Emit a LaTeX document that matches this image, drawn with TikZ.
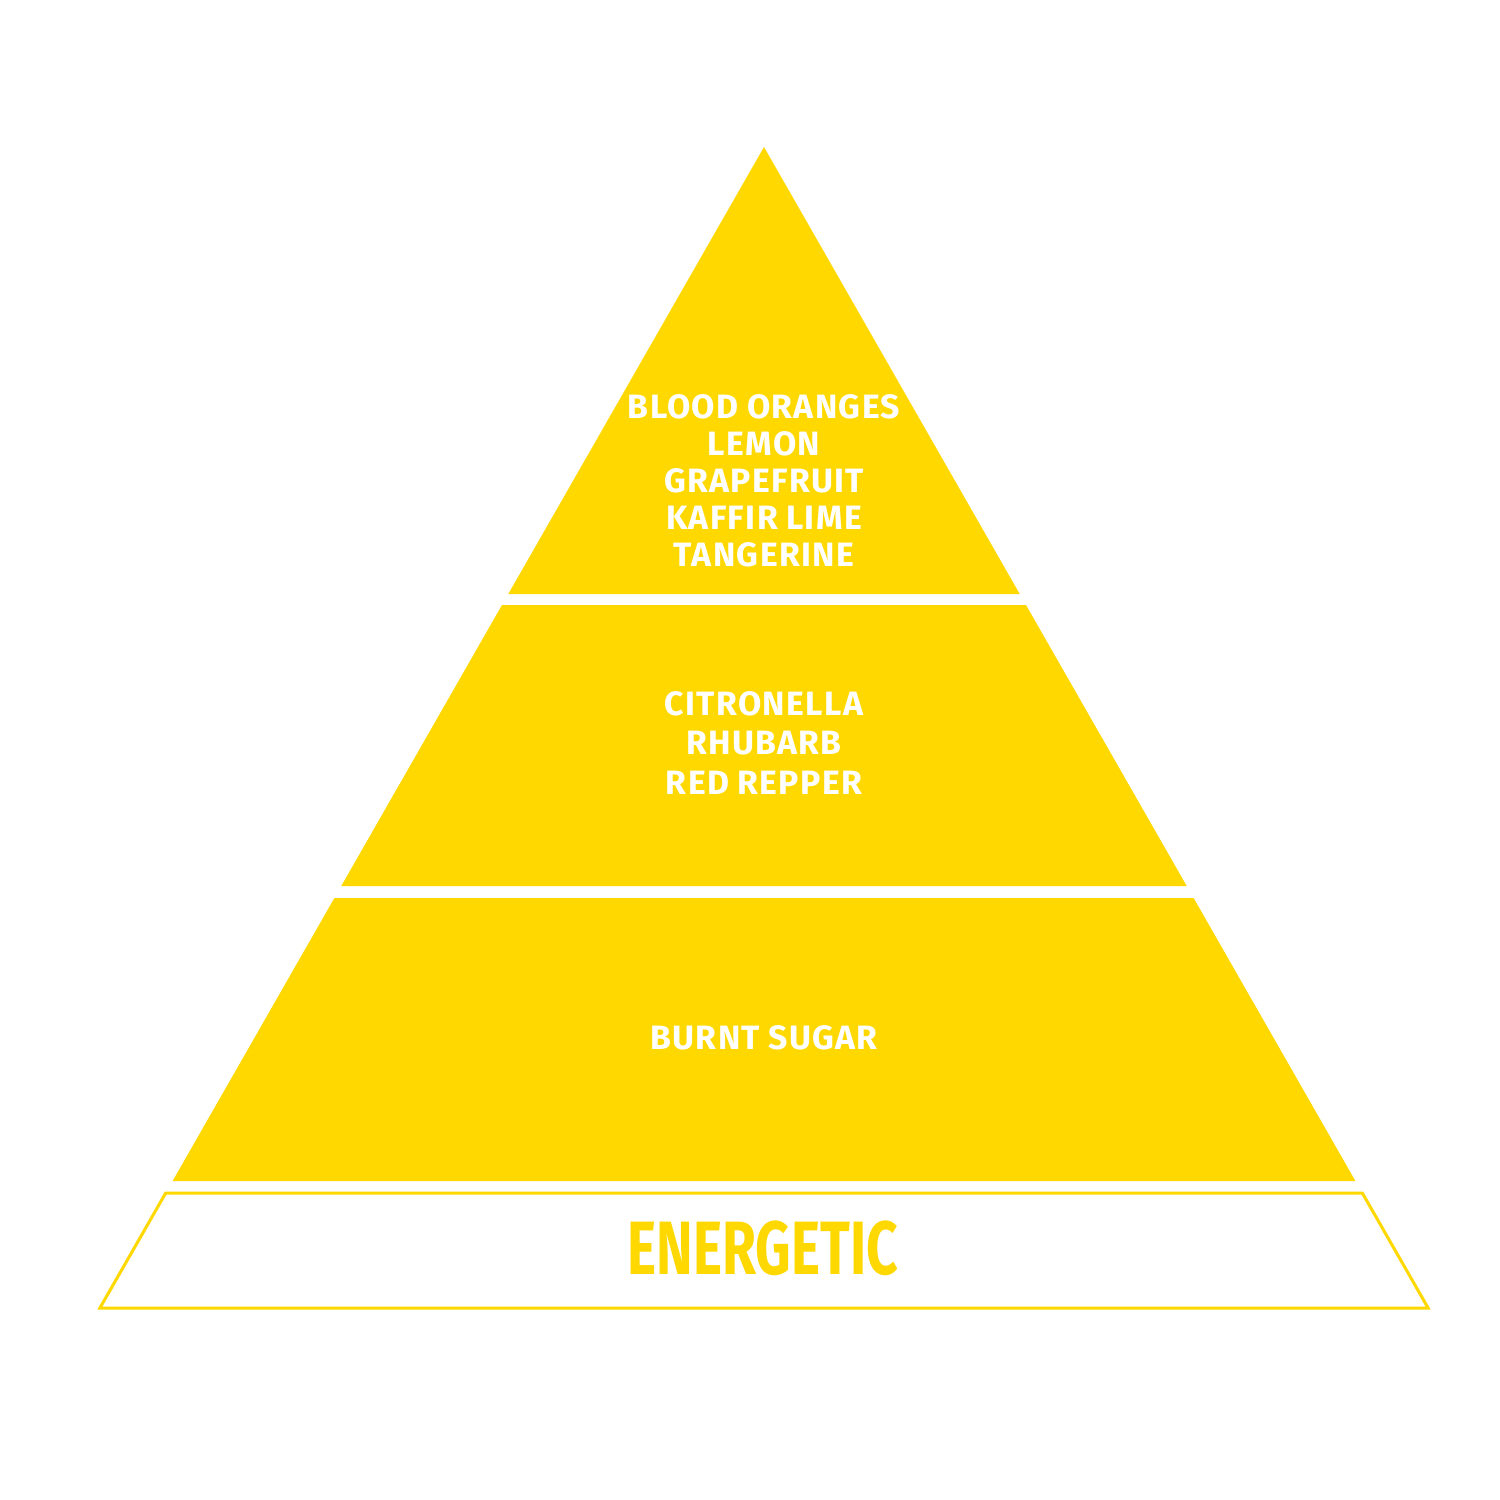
\documentclass[tikz,border=0pt]{standalone}
\usepackage{fontspec}
\setmainfont{Fira Sans}
\newfontfamily\notefont{Fira Sans}[LetterSpace=4, WordSpace=0.9]
\definecolor{pyellow}{RGB}{255,216,0}
\tikzset{
  tier/.style={fill=pyellow, draw=none},
  band/.style={draw=pyellow, line width=0.85pt, fill=white},
  notes/.style={text=white, align=center, inner sep=0pt, font=\notefont\fontsize{9.6}{10.5}\selectfont\bfseries},
  mood/.style={text=pyellow, inner sep=0pt}
}
\begin{document}
\begin{tikzpicture}[x=0.01cm, y=-0.01cm]
\useasboundingbox (0,0) rectangle (1500,1500);
% tiers
\fill[tier] (764,147) -- (1019.7,594) -- (508.3,594) -- cycle;
\fill[tier] (502,605) -- (1026,605) -- (1186.7,886) -- (341.3,886) -- cycle;
\fill[tier] (334.4,898) -- (1193.6,898) -- (1355.4,1181) -- (172.6,1181) -- cycle;
\draw[band] (165.7,1193) -- (1362.3,1193) -- (1428.1,1308) -- (99.9,1308) -- cycle;
% texts
\node[notes] (top) at (764,481) {BLOOD ORANGES\\LEMON\\GRAPEFRUIT\\KAFFIR LIME\\TANGERINE};
\node[notes, font=\notefont\fontsize{9.6}{11.1}\selectfont\bfseries] (mid) at (764,743) {CITRONELLA\\RHUBARB\\RED REPPER};
\node[notes] (low) at (764,1038) {BURNT SUGAR};
\node[mood] (name) at (763,1248) {\scalebox{0.73}[1]{\fontsize{21.5}{22}\selectfont\bfseries ENERGETIC}};
\end{tikzpicture}
\end{document}
